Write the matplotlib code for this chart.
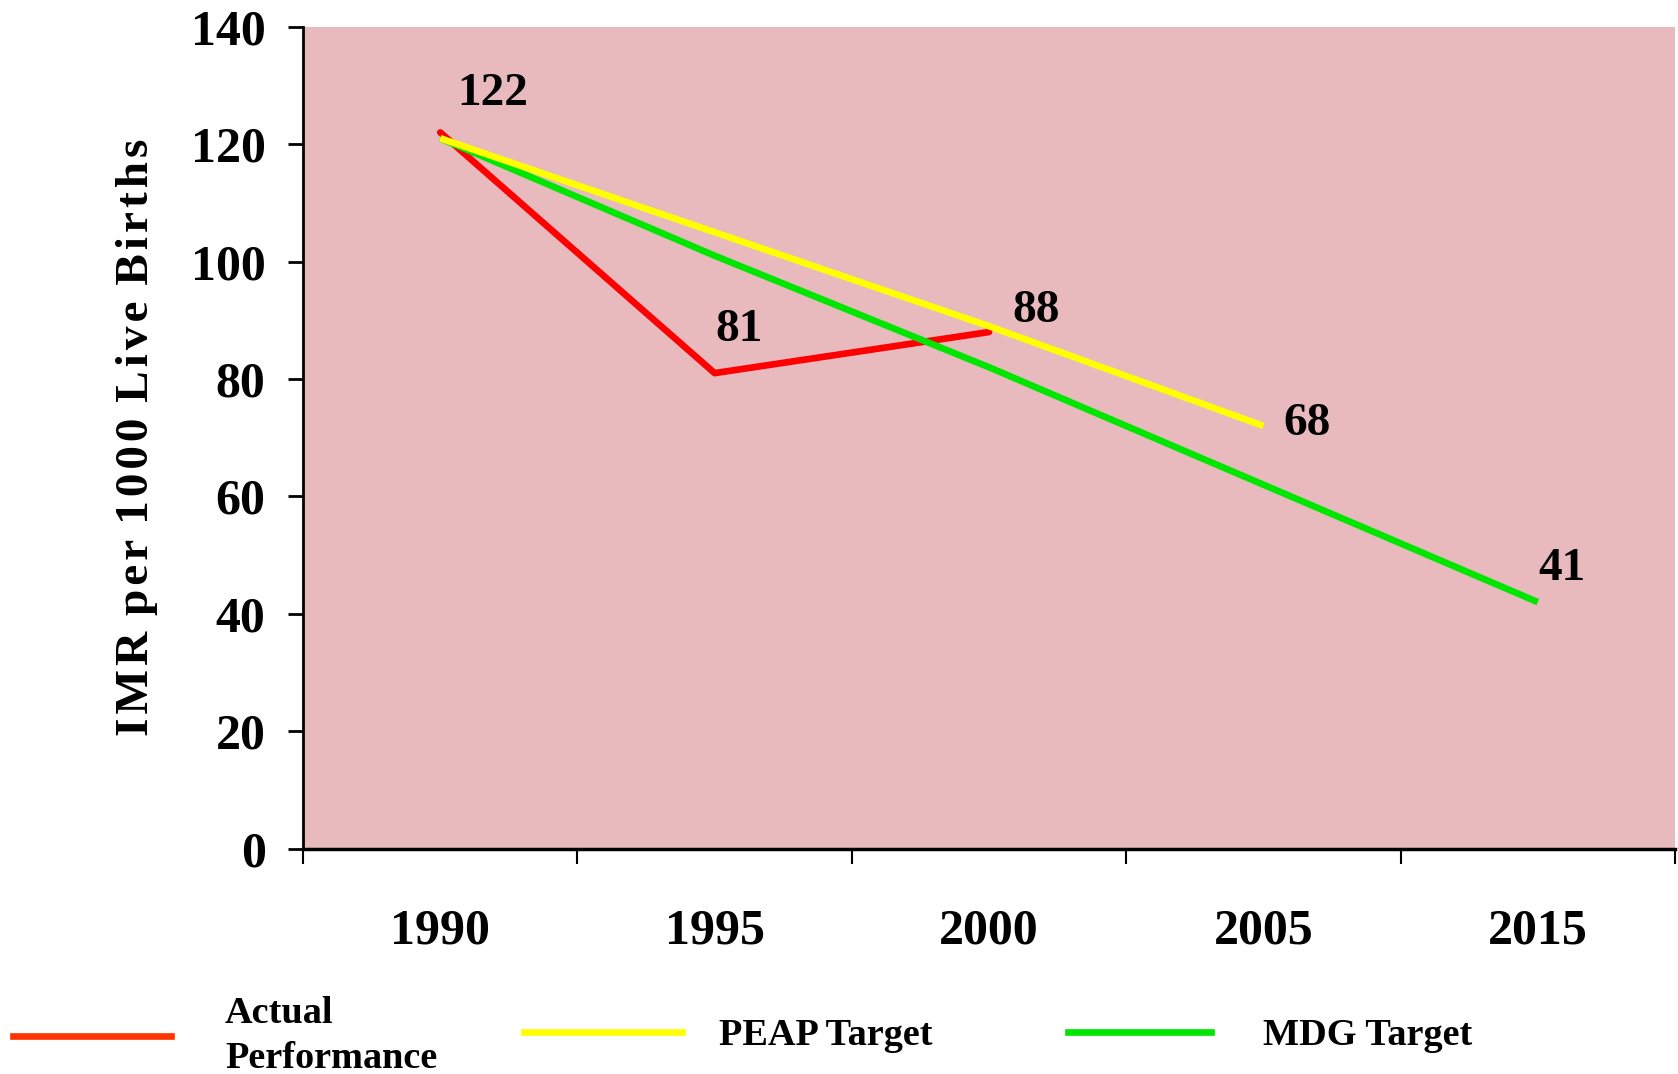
import matplotlib
matplotlib.use("Agg")
import matplotlib.pyplot as plt
from matplotlib.lines import Line2D

# ---- data ----
categories = ["1990", "1995", "2000", "2005", "2015"]
actual = [122, 81, 88]
peap = [121, 105, 89, 72]
mdg = [121, 101, 82, 62, 42]
label_texts = ["122", "81", "88", "68", "41"]
yticks = [0, 20, 40, 60, 80, 100, 120, 140]

# label positions (data coords)
label_x = [0.19, 1.09, 2.17, 3.16, 4.09]
label_y = [128.5, 88.3, 91.6, 72.3, 47.6]

plt.rcParams["font.family"] = ["Liberation Serif", "DejaVu Serif"]
plt.rcParams["font.weight"] = "bold"

fig = plt.figure(figsize=(16.78, 10.74), dpi=100)
ax = fig.add_axes([0.1806, 0.2098, 0.8176, 0.7653])
ax.set_facecolor("#E8BABE")

red, yellow, green = "#FF0000", "#FFFF00", "#00E600"
ax.plot(range(len(actual)), actual, color=red, lw=4.8, solid_capstyle="round", zorder=3)
ax.plot(range(len(mdg)), mdg, color=green, lw=4.8, solid_capstyle="butt", zorder=4)
ax.plot(range(len(peap)), peap, color=yellow, lw=4.8, solid_capstyle="butt", zorder=5)

for t, x, y in zip(label_texts, label_x, label_y):
    ax.text(x, y, t, ha="center", va="center", fontsize=34, fontweight="bold", zorder=6)

ax.set_xlim(-0.5, len(categories) - 0.5)
ax.set_ylim(0, 140)
ax.set_yticks(yticks)
ax.set_yticklabels([str(v) for v in yticks])
ax.set_xticks([i - 0.5 for i in range(len(categories) + 1)])
ax.set_xticklabels([])
ax.set_xticks(range(len(categories)), minor=True)
ax.set_xticklabels(categories, minor=True)

ax.tick_params(axis="y", which="major", direction="out", length=11, width=2,
               labelsize=36, pad=16)
ax.tick_params(axis="x", which="major", direction="out", length=11, width=1.5)
ax.tick_params(axis="x", which="minor", length=0, labelsize=36, pad=43)

for s in ["top", "right"]:
    ax.spines[s].set_visible(False)
ax.spines["left"].set_linewidth(2)
ax.spines["bottom"].set_linewidth(2.5)

hs = "\u200a"
ylabel_words = ["IMR", "per", "1000", "Live", "Births"]
ylabel = (" " + hs).join(hs.join(w) for w in ylabel_words)
ax.set_ylabel(ylabel, fontsize=34, fontweight="bold")
ax.yaxis.set_label_coords(-0.106, 0.5)

# legend (three separate entries placed along the bottom); positions in pixels
fs = 27.5
fs_px = fs * 100 / 72
W = 1678
entries = [("Actual\nPerformance", "#FF3300", 13, 158, 225),
           ("PEAP Target", yellow, 524, 158, 719),
           ("MDG Target", green, 1068, 143, 1263)]
for text, col, x0, hl, tx in entries:
    h = Line2D([], [], color=col, lw=4.8)
    fig.legend([h], [text], loc="center left", bbox_to_anchor=(x0 / W, 0.0355),
               frameon=False, handlelength=hl / fs_px,
               handletextpad=(tx - x0 - hl) / fs_px,
               borderpad=0, borderaxespad=0,
               prop={"weight": "bold", "size": fs})
for lg in fig.legends:
    for t in lg.get_texts():
        t.set_linespacing(1.38)

fig.savefig("out.png", dpi=100)
